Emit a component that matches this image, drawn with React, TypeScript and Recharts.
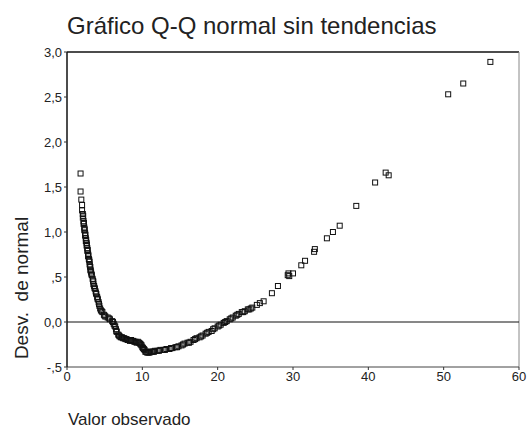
import { ReferenceLine, Scatter, ScatterChart, XAxis, YAxis } from "recharts";

// valor observado (eje x)
const observed = [
  1.8, 1.8, 1.9, 2.0, 2.0, 2.1, 2.1, 2.2, 2.2, 2.3, 2.3, 2.4, 2.4, 2.5, 2.5, 2.6, 2.6, 2.7, 2.7, 2.8,
  2.8, 2.9, 3.0, 3.0, 3.1, 3.1, 3.2, 3.3, 3.4, 3.5, 3.5, 3.6, 3.7, 3.8, 3.9, 4.0, 4.1, 4.2, 4.3, 4.4,
  4.5, 4.7, 4.9, 5.1, 5.4, 5.7, 6.0, 6.2, 6.4, 6.5, 6.6, 6.8, 7.0, 7.3, 7.6, 7.9, 8.2, 8.5, 8.8, 9.1,
  9.4, 9.7, 9.9, 10.1, 10.3, 10.5, 10.8, 11.1, 11.4, 11.7, 12.0, 12.4, 12.8, 13.2, 13.6, 14.0, 14.4, 14.8, 15.2, 15.6,
  16.0, 16.4, 16.8, 17.2, 17.6, 18.0, 18.4, 18.8, 19.2, 19.6, 20.0, 20.4, 20.8, 21.2, 21.6, 22.0, 22.4, 22.8, 23.2, 23.6,
  24.0, 24.4, 24.6, 25.2, 25.6, 26.1, 27.2, 28.0, 29.3, 29.4, 29.5, 30.0, 31.1, 31.6, 32.8, 32.9, 34.5, 35.3, 36.2, 38.4,
  40.9, 42.3, 42.7, 50.6, 52.6, 56.2,
  // zona densa
  2.15, 2.25, 2.35, 2.45, 2.55, 2.65, 2.75, 2.85, 2.95, 3.05, 3.15, 3.25, 3.45, 3.65, 3.85, 4.05, 4.25, 4.6, 5.0, 5.6,
  6.1, 6.3, 6.55, 6.9, 7.15, 7.45, 7.75, 8.05, 8.35, 8.65, 8.95, 9.25, 9.55, 9.8, 10.0, 10.2, 10.4, 10.65, 10.95, 11.25,
  11.55, 12.2, 13.0, 13.8, 14.6, 15.4, 16.2, 17.0, 17.8, 18.6, 19.4, 20.2, 21.0, 21.8, 22.6, 23.4, 24.2,
];

// desviación de la normal (eje y)
const deviation = [
  1.65, 1.45, 1.36, 1.3, 1.24, 1.2, 1.16, 1.12, 1.09, 1.05, 1.02, 0.99, 0.96, 0.93, 0.9, 0.88, 0.85, 0.82, 0.79, 0.76,
  0.73, 0.7, 0.67, 0.64, 0.61, 0.58, 0.55, 0.52, 0.48, 0.45, 0.42, 0.4, 0.37, 0.34, 0.31, 0.28, 0.25, 0.22, 0.18, 0.15,
  0.13, 0.11, 0.08, 0.06, 0.05, 0.03, 0.01, -0.02, -0.05, -0.08, -0.11, -0.14, -0.16, -0.17, -0.18, -0.19, -0.2, -0.2, -0.21, -0.22,
  -0.22, -0.24, -0.26, -0.29, -0.31, -0.33, -0.34, -0.33, -0.33, -0.32, -0.32, -0.31, -0.31, -0.3, -0.3, -0.29, -0.28, -0.27, -0.26, -0.24,
  -0.23, -0.22, -0.2, -0.18, -0.17, -0.15, -0.13, -0.11, -0.1, -0.07, -0.05, -0.03, -0.01, 0.01, 0.03, 0.05, 0.07, 0.09, 0.11, 0.12,
  0.14, 0.15, 0.16, 0.19, 0.21, 0.23, 0.32, 0.4, 0.52, 0.54, 0.51, 0.54, 0.63, 0.68, 0.78, 0.81, 0.93, 1.0, 1.07, 1.29,
  1.55, 1.66, 1.63, 2.53, 2.65, 2.89,
  // zona densa
  1.18, 1.1, 1.03, 0.97, 0.91, 0.86, 0.8, 0.74, 0.69, 0.62, 0.57, 0.53, 0.46, 0.38, 0.32, 0.26, 0.2, 0.12, 0.07, 0.04,
  0.0, -0.04, -0.1, -0.15, -0.17, -0.18, -0.19, -0.2, -0.21, -0.21, -0.22, -0.23, -0.23, -0.25, -0.28, -0.3, -0.33, -0.34, -0.34, -0.33,
  -0.33, -0.32, -0.31, -0.29, -0.28, -0.25, -0.23, -0.19, -0.16, -0.12, -0.08, -0.04, 0.0, 0.04, 0.08, 0.11, 0.14,
];

const xTicks = [0, 10, 20, 30, 40, 50, 60];
const yTicks = [-0.5, 0, 0.5, 1, 1.5, 2, 2.5, 3];
const yTickLabels = ["-,5", "0,0", ",5", "1,0", "1,5", "2,0", "2,5", "3,0"];

const data = observed.map((x, i) => ({ x, y: deviation[i] }));

const FONT = '"Liberation Sans", Arial, sans-serif';

const Square = (props: any) => {
  const { cx, cy } = props;
  if (cx == null || cy == null) return null;
  return <rect x={cx - 2.5} y={cy - 2.5} width={5} height={5} fill="none" stroke="#111" strokeWidth={1} />;
};

export default function App() {
  return (
    <div style={{ position: "absolute", left: 0, top: 0, width: 528, height: 430, background: "#fff", fontFamily: FONT }}>
      <div style={{ position: "absolute", left: 67, top: 14, fontSize: 24, lineHeight: "24px", color: "#222", whiteSpace: "nowrap" }}>
        Gráfico Q-Q normal sin tendencias
      </div>
      <div
        style={{
          position: "absolute",
          left: 21,
          top: 288,
          fontSize: 19,
          lineHeight: "19px",
          color: "#222",
          whiteSpace: "pre",
          transform: "translate(-50%, -50%) rotate(-90deg)",
        }}
      >
        {"Desv.  de normal"}
      </div>
      <div style={{ position: "absolute", left: 68, top: 411, fontSize: 17, lineHeight: "17px", color: "#222", whiteSpace: "nowrap" }}>
        Valor observado
      </div>
      <ScatterChart width={528} height={430} margin={{ top: 52, right: 9, bottom: 33, left: 27 }}>
        <XAxis
          type="number"
          dataKey="x"
          domain={[0, 60]}
          ticks={xTicks}
          height={30}
          tickSize={3}
          axisLine={{ stroke: "#444", strokeWidth: 1 }}
          tickLine={{ stroke: "#333" }}
          tick={{ fill: "#222", fontSize: 13, fontFamily: FONT }}
        />
        <YAxis
          type="number"
          dataKey="y"
          domain={[-0.5, 3]}
          ticks={yTicks}
          width={40}
          tickSize={3}
          tickFormatter={(v: number) => yTickLabels[yTicks.indexOf(v)] ?? String(v)}
          axisLine={{ stroke: "#111", strokeWidth: 1.5 }}
          tickLine={{ stroke: "#333" }}
          tick={{ fill: "#222", fontSize: 13, fontFamily: FONT }}
        />
        <ReferenceLine y={3} stroke="#111" strokeWidth={1.5} />
        <ReferenceLine x={60} stroke="#888" strokeWidth={1} />
        <ReferenceLine y={0} stroke="#111" strokeWidth={1} />
        <Scatter data={data} shape={Square} isAnimationActive={false} />
      </ScatterChart>
    </div>
  );
}
